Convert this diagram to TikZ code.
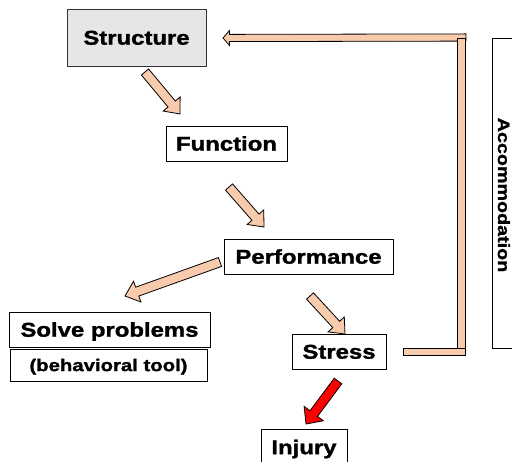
\documentclass[tikz,border=0pt]{standalone}
\usepackage{fontspec}
\setmainfont{Liberation Sans}[FakeStretch=1.2, BoldFeatures={FakeBold=1.5}]
\usetikzlibrary{calc}
\definecolor{peach}{HTML}{F8CBAD}
\definecolor{boxgray}{HTML}{E6E6E6}
\definecolor{hurt}{HTML}{FF0000}
\newcommand\blockarrow[6]{%
  \coordinate (hb) at ($(#3)!#6!(#2)$);
  \draw[#1] ($(#2)!#4!90:(#3)$) -- ($(hb)!#4!90:(#3)$) -- ($(hb)!#5!90:(#3)$) -- (#3)
    -- ($(hb)!#5!-90:(#3)$) -- ($(hb)!#4!-90:(#3)$) -- ($(#2)!#4!-90:(#3)$) -- cycle;
}
\tikzset{
  lbl/.style={draw=black, line width=0.9bp, fill=white, inner sep=0pt,
    text height=14.4pt, text depth=0pt, font=\fontsize{20}{24}\selectfont\bfseries},
  small/.style={text height=12.2pt, font=\fontsize{17}{20}\selectfont\bfseries},
  barstyle/.style={draw=black, line width=0.7bp, fill=peach},
  arrowstyle/.style={draw=black, line width=0.8bp, fill=peach, line join=miter},
  redarrow/.style={draw=black, line width=0.8bp, fill=hurt, line join=miter}
}
\begin{document}
\begin{tikzpicture}[x=1bp, y=-1bp]
\useasboundingbox (0,0) rectangle (512,462);
\clip (0,0) rectangle (512,462);
\fill[white] (0,0) rectangle (512,462);

% nodes
\node[lbl, draw=black!80, fill=boxgray, minimum width=139bp, minimum height=57bp] (structure) at (136.5,37.5) {Structure};
\node[lbl, minimum width=121bp, minimum height=35bp] (function) at (226.5,143.5) {Function};
\node[lbl, minimum width=169bp, minimum height=35bp] (performance) at (308.5,256.5) {Performance};
\node[lbl, minimum width=201bp, minimum height=35bp] (solve) at (109.5,329.5) {Solve problems};
\node[lbl, small, minimum width=197bp, minimum height=32bp] (tool) at (108.5,365) {(behavioral tool)};
\node[lbl, minimum width=94bp, minimum height=35bp] (stress) at (339,351.5) {Stress};
\node[lbl, minimum width=86bp, minimum height=36bp] (injury) at (304,447) {Injury};

% accommodation box
\draw[line width=0.8bp] (492,38) rectangle (530,348);
\node[font=\fontsize{16.5}{20}\selectfont\bfseries, rotate=-90, anchor=base, inner sep=0pt] (acc) at (498,195) {Accommodation};

% arrow end points
\coordinate (a1s) at (145,72);  \coordinate (a1e) at (180,114);
\coordinate (a2s) at (229,187); \coordinate (a2e) at (264,227);
\coordinate (a3s) at (220,262); \coordinate (a3e) at (125,296);
\coordinate (a4s) at (310,296); \coordinate (a4e) at (345,334);
\coordinate (a5s) at (338,381); \coordinate (a5e) at (306,424);
\coordinate (fbs) at (466,37.5); \coordinate (fbe) at (223,38);

\blockarrow{arrowstyle}{a1s}{a1e}{4.7bp}{11bp}{13bp}
\blockarrow{arrowstyle}{a2s}{a2e}{4.7bp}{11bp}{13bp}
\blockarrow{arrowstyle}{a3s}{a3e}{4.7bp}{11bp}{13bp}
\blockarrow{arrowstyle}{a4s}{a4e}{4.7bp}{11bp}{13bp}
\blockarrow{redarrow}{a5s}{a5e}{4.7bp}{12bp}{13bp}

% feedback loop
\blockarrow{arrowstyle}{fbs}{fbe}{3.6bp}{7.5bp}{6.5bp}
\draw[barstyle] (457,38) rectangle (465,348);
\draw[barstyle] (403,348) rectangle (465,355);
\end{tikzpicture}
\end{document}
